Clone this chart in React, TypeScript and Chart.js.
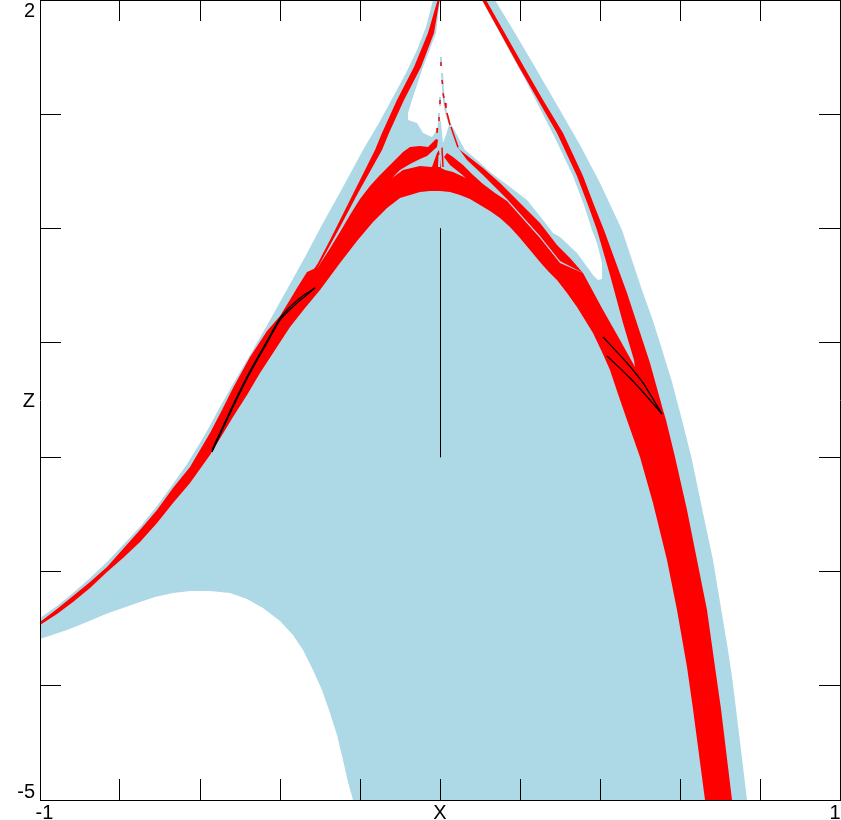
import React, { useEffect, useRef } from "react";
import { Chart, registerables } from "chart.js";

Chart.register(...registerables);

type Pair = [number, number];

const BLUE = "#ADD8E6";
const RED = "#FF0000";
const BLACK = "#000000";
const WHITE = "#FFFFFF";

const xMarks = [-1, -0.8, -0.6, -0.4, -0.2, 0, 0.2, 0.4, 0.6, 0.8, 1];
const zMarks = [-5, -4, -3, -2, -1, 0, 1, 2];
const xLabels: Pair[] = [[-0.98875, -1], [0.9875, 1]];
const xCenterLabel = "X";
const zLabels: [number, string][] = [[1.9, "2"], [-1.51, "Z"], [-4.933, "-5"]];

const blueOutline: Pair[] = [
  [-1, -3.408], [-0.9575, -3.303], [-0.9175, -3.189], [-0.875, -3.058], [-0.8325, -2.918], [-0.7925, -2.769],
  [-0.75, -2.611], [-0.7075, -2.428], [-0.6675, -2.235], [-0.6325, -2.06], [-0.6075, -1.92], [-0.5825, -1.771],
  [-0.55, -1.561], [-0.5175, -1.36], [-0.475, -1.106], [-0.425, -0.8], [-0.375, -0.485], [-0.3375, -0.249],
  [-0.2925, 0.049], [-0.2425, 0.364], [-0.1925, 0.688], [-0.15, 0.941], [-0.1175, 1.151], [-0.085, 1.361],
  [-0.0575, 1.563], [-0.035, 1.764], [-0.0175, 2], [0.1375, 2], [0.1875, 1.711], [0.2375, 1.414], [0.2925, 1.081],
  [0.35, 0.731], [0.4, 0.399], [0.455, -0.013], [0.48, -0.275], [0.5075, -0.564], [0.53, -0.783], [0.55, -1.001],
  [0.58, -1.343], [0.605, -1.675], [0.63, -2.025], [0.6575, -2.489], [0.6825, -2.9], [0.695, -3.163], [0.7075, -3.425],
  [0.72, -3.688], [0.73, -3.924], [0.74, -4.204], [0.7525, -4.563], [0.7675, -5], [-0.2175, -5], [-0.23, -4.843],
  [-0.2425, -4.65], [-0.2575, -4.431], [-0.275, -4.239], [-0.295, -4.038], [-0.3175, -3.863], [-0.3425, -3.688],
  [-0.3675, -3.556], [-0.4, -3.434], [-0.4425, -3.32], [-0.4825, -3.241], [-0.525, -3.189], [-0.575, -3.171],
  [-0.625, -3.171], [-0.6675, -3.189], [-0.7125, -3.224], [-0.75, -3.268], [-0.8, -3.329], [-0.8325, -3.368],
  [-0.8825, -3.443], [-0.9325, -3.513], [-1, -3.591],
];

const whiteHole: Pair[] = [
  [0, 2], [-0.01, 1.711], [-0.0425, 1.414], [-0.07, 1.125], [-0.08, 1.011], [-0.08, 0.95], [-0.0575, 0.924],
  [-0.0425, 0.836], [-0.02, 0.801], [-0.0075, 0.863], [-0.0025, 0.968], [0.0025, 0.933], [0.0075, 0.749],
  [0.015, 0.819], [0.0225, 0.906], [0.0325, 0.88], [0.0625, 0.688], [0.0925, 0.6], [0.125, 0.495], [0.175, 0.364],
  [0.2175, 0.25], [0.2575, 0.075], [0.2825, -0.039], [0.3, -0.074], [0.3425, -0.214], [0.3825, -0.406], [0.395, -0.45],
  [0.405, -0.441], [0.405, -0.301], [0.3925, -0.126], [0.38, -0.013], [0.36, 0.206], [0.3325, 0.46], [0.29, 0.775],
  [0.2175, 1.274], [0.15, 1.711], [0.105, 2],
];

const redMain: Pair[] = [
  [-1, -3.443], [-0.9575, -3.329], [-0.9175, -3.215], [-0.875, -3.093], [-0.8325, -2.961], [-0.7925, -2.804],
  [-0.75, -2.638], [-0.7075, -2.463], [-0.6675, -2.27], [-0.625, -2.086], [-0.6, -1.938], [-0.575, -1.789],
  [-0.545, -1.588], [-0.5175, -1.395], [-0.475, -1.124], [-0.4325, -0.896], [-0.4, -0.765], [-0.38, -0.651],
  [-0.3575, -0.52], [-0.3325, -0.38], [-0.305, -0.336], [-0.2775, -0.188], [-0.25, -0.03], [-0.225, 0.119], [-0.2, 0.259],
  [-0.175, 0.373], [-0.15, 0.469], [-0.125, 0.556], [-0.0925, 0.67], [-0.075, 0.714], [-0.05, 0.723],
  [-0.03, 0.714], [-0.01, 0.784], [-0.005, 0.775], [-0.0075, 0.714], [-0.0325, 0.635], [-0.05, 0.609], [-0.075, 0.565],
  [-0.1, 0.513], [-0.12, 0.443], [-0.0925, 0.513], [-0.05, 0.548], [-0.02, 0.539], [-0.0075, 0.661], [-0.0025, 0.688],
  [0.0025, 0.53], [0.0125, 0.513], [0.0325, 0.495], [0.065, 0.443], [0.05, 0.486], [0.025, 0.556], [0.01, 0.626],
  [0.0175, 0.661], [0.0325, 0.626], [0.0575, 0.556], [0.0825, 0.469], [0.1075, 0.39], [0.1375, 0.311], [0.1675, 0.241],
  [0.2075, 0.084], [0.25, -0.083], [0.3, -0.301], [0.3575, -0.389], [0.4075, -0.713], [0.45, -0.975], [0.4875, -1.211],
  [0.485, -1.15], [0.4575, -0.826], [0.425, -0.406], [0.3925, -0.013], [0.37, 0.206], [0.3425, 0.46], [0.2925, 0.836],
  [0.245, 1.125], [0.1975, 1.414], [0.105, 2], [0.115, 2], [0.21, 1.414], [0.2575, 1.125], [0.3075, 0.836], [0.3575, 0.46],
  [0.385, 0.206], [0.41, -0.013], [0.4675, -0.564], [0.525, -1.176], [0.5575, -1.588], [0.565, -1.675], [0.5875, -1.999],
  [0.6175, -2.463], [0.6425, -2.9], [0.6675, -3.338], [0.6875, -3.836], [0.7025, -4.204], [0.73, -5], [0.6625, -5],
  [0.6325, -4.204], [0.6175, -3.836], [0.5925, -3.338], [0.5675, -2.9], [0.5325, -2.401], [0.5, -1.999], [0.4675, -1.675],
  [0.445, -1.448], [0.425, -1.238], [0.405, -1.08], [0.3825, -0.914], [0.3625, -0.8], [0.3425, -0.686], [0.3175, -0.564],
  [0.2925, -0.45], [0.27, -0.371], [0.25, -0.293], [0.225, -0.188], [0.2, -0.083], [0.175, 0.014], [0.15, 0.093], [0.125, 0.154],
  [0.1, 0.206], [0.075, 0.259], [0.05, 0.294], [0.025, 0.32], [0, 0.329], [-0.025, 0.329], [-0.05, 0.32], [-0.075, 0.294],
  [-0.1, 0.268], [-0.1325, 0.18], [-0.1675, 0.058], [-0.2075, -0.109], [-0.25, -0.301], [-0.3, -0.538], [-0.3375, -0.695],
  [-0.375, -0.861], [-0.4125, -1.063], [-0.45, -1.264], [-0.4825, -1.456], [-0.5175, -1.649], [-0.575, -1.981], [-0.625, -2.226],
  [-0.6675, -2.401], [-0.7075, -2.576], [-0.75, -2.743], [-0.7925, -2.883], [-0.8325, -3.005], [-0.875, -3.145],
  [-0.9175, -3.268], [-0.9575, -3.373], [-1, -3.469],
];

const redLeftRibbon: Pair[] = [
  [-0.006, 2], [-0.03, 1.711], [-0.065, 1.414], [-0.1075, 1.125], [-0.145, 0.836], [-0.1625, 0.688], [-0.225, 0.25],
  [-0.275, -0.1], [-0.305, -0.301], [-0.32, -0.38], [-0.305, -0.336], [-0.25, 0.014], [-0.205, 0.311], [-0.145, 0.688],
  [-0.1275, 0.836], [-0.09, 1.125], [-0.0475, 1.414], [-0.015, 1.711], [-0.001, 2],
];

const redInnerRibbon: Pair[] = [
  [0.04, 0.731], [0.05, 0.688], [0.1075, 0.53], [0.15, 0.399], [0.2, 0.224], [0.25, 0.049], [0.2925, -0.144],
  [0.325, -0.258], [0.3575, -0.389], [0.3, -0.284], [0.25, -0.065], [0.2075, 0.101], [0.1675, 0.259], [0.1375, 0.364],
  [0.1075, 0.469], [0.0675, 0.6],
];

const blueSpikes: Pair[][] = [
  [[0.0025, 1.501], [0.0025, 1.4225]],
  [[0.005, 1.361], [0.0075, 1.2125], [0.01, 1.125], [0.015, 1.02], [0.0225, 0.9325], [0.0325, 0.8625], [0.045, 0.775]],
  [[0, 1.151], [0, 1.0725]],
  [[-0.0025, 1.011], [-0.0025, 0.9325]],
  [[-0.005, 0.88], [-0.005, 0.819]],
  [[-0.00125, 0.644], [-0.0025, 0.539]],
];

const redSpikes: Pair[][] = [
  [[0.0025, 1.4575], [0.0025, 1.4225]],
  [[0.005, 1.3], [0.00625, 1.265]],
  [[0.0075, 1.186], [0.01, 1.1425]],
  [[0.0125, 1.099], [0.015, 1.055]],
  [[0.0175, 1.011], [0.025, 0.906]],
  [[0.0275, 0.889], [0.045, 0.711]],
  [[0, 1.125], [0, 1.09]],
  [[-0.0025, 0.976], [-0.0025, 0.941]],
  [[-0.00625, 0.88], [-0.0075, 0.836]],
  [[0.005, 0.708], [0.0075, 0.539]],
];

const blackLines: Pair[][] = [
  [[0.00125, 0], [0.00125, -2]],
  [[-0.57, -1.955], [-0.5175, -1.561], [-0.475, -1.264], [-0.4325, -1.001], [-0.4, -0.8], [-0.3575, -0.651], [-0.3125, -0.52]],
  [[-0.57, -1.938], [-0.5175, -1.544], [-0.475, -1.246], [-0.4325, -0.984], [-0.4, -0.783], [-0.3675, -0.66], [-0.34, -0.581], [-0.3125, -0.52]],
  [[0.4075, -0.949], [0.4675, -1.176], [0.5075, -1.351], [0.555, -1.623]],
  [[0.4175, -1.115], [0.475, -1.308], [0.525, -1.5], [0.555, -1.623]],
];

const points = (pairs: Pair[]) => pairs.map(([x, y]) => ({ x, y }));

const shape = (pairs: Pair[], color: string) => ({
  data: points(pairs),
  backgroundColor: color,
  borderColor: color,
  borderWidth: 0,
  fill: "shape",
  pointRadius: 0,
  tension: 0,
  xAxisID: "x",
  yAxisID: "y",
});

const stroke = (pairs: Pair[], color: string, width: number, tension = 0) => ({
  data: points(pairs),
  borderColor: color,
  backgroundColor: color,
  borderWidth: width,
  fill: false,
  pointRadius: 0,
  tension,
  xAxisID: "x",
  yAxisID: "y",
});

const sortedUnique = (values: number[]) => [...new Set(values)].sort((a, b) => a - b);
const FONT = { family: "'Liberation Sans', Arial, sans-serif", size: 20 };

export default function App() {
  const ref = useRef<HTMLCanvasElement | null>(null);

  useEffect(() => {
    if (!ref.current) return;
    const fixSize = (size: { width?: number; height?: number }) => (scale: any) => {
      if (size.width !== undefined) scale.width = size.width;
      if (size.height !== undefined) scale.height = size.height;
      scale.paddingLeft = scale.paddingRight = scale.paddingTop = scale.paddingBottom = 0;
    };
    const setTicks = (values: number[]) => (scale: any) => {
      scale.ticks = values.map((value) => ({ value }));
    };
    const markColor = (marks: number[]) => (ctx: any) =>
      ctx.tick && marks.includes(ctx.tick.value) ? BLACK : "rgba(0,0,0,0)";
    const axisCommon = (marks: number[]) => ({
      type: "linear",
      grid: {
        drawOnChartArea: false,
        drawTicks: true,
        tickLength: -21,
        tickWidth: 1,
        tickColor: markColor(marks),
        z: 1,
      },
      border: { display: true, color: BLACK, width: 1, z: 1 },
    });

    const chart = new Chart(ref.current, {
      type: "line",
      data: {
        datasets: [
          ...blackLines.map((l, i) => stroke(l, BLACK, i === 0 ? 1 : 1.3, i === 0 ? 0 : 0.2)),
          ...redSpikes.map((l) => stroke(l, RED, 1.5)),
          ...blueSpikes.map((l) => stroke(l, BLUE, 2, 0.2)),
          shape(redInnerRibbon, RED),
          shape(redLeftRibbon, RED),
          shape(redMain, RED),
          shape(whiteHole, WHITE),
          shape(blueOutline, BLUE),
        ] as any,
      },
      options: {
        responsive: false,
        animation: false,
        layout: { padding: 0 },
        plugins: { legend: { display: false }, tooltip: { enabled: false } },
        scales: {
          x: {
            ...axisCommon(xMarks),
            position: "bottom",
            min: -1,
            max: 1,
            afterBuildTicks: setTicks(sortedUnique([...xMarks, ...xLabels.map((l) => l[0])])),
            afterFit: fixSize({ height: 20 }),
            ticks: {
              autoSkip: false,
              maxRotation: 0,
              minRotation: 0,
              padding: 22,
              color: BLACK,
              font: FONT,
              callback: (v: number) => {
                if (v === 0) return xCenterLabel;
                const hit = xLabels.find((l) => l[0] === v);
                return hit ? String(hit[1]) : "";
              },
            },
          },
          x2: {
            ...axisCommon(xMarks),
            position: "top",
            min: -1,
            max: 1,
            afterBuildTicks: setTicks(xMarks),
            afterFit: fixSize({ height: 0 }),
            ticks: { display: false, autoSkip: false, maxRotation: 0 },
          },
          y: {
            ...axisCommon(zMarks),
            position: "left",
            min: -5,
            max: 2,
            afterBuildTicks: setTicks(sortedUnique([...zMarks, ...zLabels.map((l) => l[0])])),
            afterFit: fixSize({ width: 40 }),
            ticks: {
              autoSkip: false,
              padding: 26,
              color: BLACK,
              font: FONT,
              callback: (v: number) => {
                const hit = zLabels.find((l) => l[0] === v);
                return hit ? hit[1] : "";
              },
            },
          },
          y2: {
            ...axisCommon(zMarks),
            position: "right",
            min: -5,
            max: 2,
            afterBuildTicks: setTicks(zMarks),
            afterFit: fixSize({ width: 1 }),
            ticks: { display: false, autoSkip: false },
          },
        },
      } as any,
    });
    return () => chart.destroy();
  }, []);

  return (
    <canvas
      ref={ref}
      width={841}
      height={820}
      style={{ position: "fixed", left: 0, top: 0, display: "block", width: 841, height: 820 }}
    />
  );
}
